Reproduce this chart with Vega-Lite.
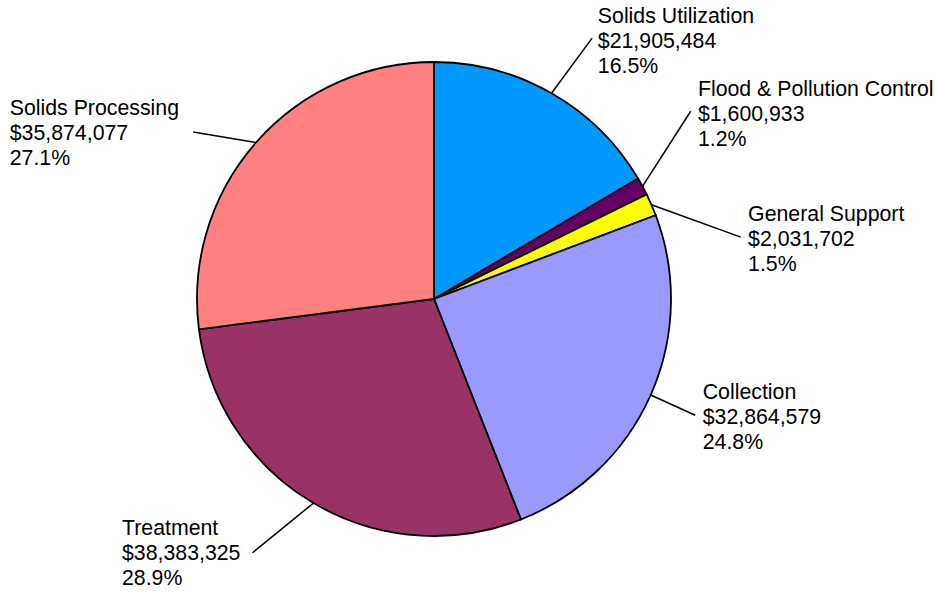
{
  "$schema": "https://vega.github.io/schema/vega-lite/v6.json",
  "width": 868,
  "height": 594,
  "autosize": "none",
  "padding": {"left": 0, "top": 2, "right": 69, "bottom": 0},
  "background": "white",
  "view": {"stroke": null},
  "config": {"text": {"font": "Liberation Sans", "fontSize": 21.3, "lineHeight": 25, "lineBreak": "\n", "baseline": "middle", "color": "black", "dy": -23}},
  "data": {
    "values": [
      {"cat": "Solids Utilization", "value": 21905484, "pct": 16.5},
      {"cat": "Flood & Pollution Control", "value": 1600933, "pct": 1.2},
      {"cat": "General Support", "value": 2031702, "pct": 1.5},
      {"cat": "Collection", "value": 32864579, "pct": 24.8},
      {"cat": "Treatment", "value": 38383325, "pct": 28.9},
      {"cat": "Solids Processing", "value": 35874077, "pct": 27.1}
    ]
  },
  "transform": [
    {"window": [{"op": "row_number", "as": "idx"}]},
    {"stack": "value", "groupby": [], "sort": [{"field": "idx"}], "offset": "normalize", "as": ["v0", "v1"]},
    {"calculate": "(datum.v0 + datum.v1) / 2", "as": "mid"},
    {"calculate": "datum.cat + '\\n$' + format(datum.value, ',') + '\\n' + format(datum.pct, '.1f') + '%'", "as": "label"}
  ],
  "layer": [
    {
      "mark": {"type": "arc", "outerRadius": 237, "stroke": "black", "strokeWidth": 1.8},
      "encoding": {
        "theta": {"field": "v0", "type": "quantitative", "scale": {"domain": [0, 1], "nice": false, "zero": true}},
        "theta2": {"field": "v1"},
        "color": {
          "field": "cat", "type": "nominal", "legend": null,
          "scale": {
            "domain": ["Solids Utilization", "Flood & Pollution Control", "General Support", "Collection", "Treatment", "Solids Processing"],
            "range": ["#0099FF", "#660066", "#FFFF00", "#9999FF", "#993366", "#FF8080"]
          }
        }
      }
    },
    {
      "transform": [
        {"calculate": "2 * PI * datum.mid", "as": "a0"},
        {"calculate": "datum.a0 + PI / 180 * (datum.cat === 'Solids Utilization' ? 1.5 : datum.cat === 'Flood & Pollution Control' ? -7.8 : datum.cat === 'General Support' ? 12.05 : datum.cat === 'Collection' ? 0.1 : datum.cat === 'Treatment' ? 5.0 : -6.6)", "as": "a1"},
        {"calculate": "datum.cat === 'Solids Utilization' ? 305 : datum.cat === 'Flood & Pollution Control' ? 318 : datum.cat === 'General Support' ? 313 : datum.cat === 'Collection' ? 286 : datum.cat === 'Treatment' ? 312 : 293", "as": "r1"},
        {"calculate": "237 * sin(datum.a0)", "as": "sx"},
        {"calculate": "237 * cos(datum.a0)", "as": "sy"},
        {"calculate": "datum.r1 * sin(datum.a1)", "as": "ex"},
        {"calculate": "datum.r1 * cos(datum.a1)", "as": "ey"}
      ],
      "mark": {"type": "rule", "color": "black", "strokeWidth": 1.5},
      "encoding": {
        "x": {"field": "sx", "type": "quantitative", "axis": null, "scale": {"domain": [-434, 434], "nice": false, "zero": false}},
        "y": {"field": "sy", "type": "quantitative", "axis": null, "scale": {"domain": [-297, 297], "nice": false, "zero": false}},
        "x2": {"field": "ex"},
        "y2": {"field": "ey"}
      }
    },
    {
      "transform": [{"filter": "datum.cat === 'Solids Utilization'"}],
      "mark": {"type": "text", "align": "left", "radius": 306.6, "thetaOffset": 0.045},
      "encoding": {"theta": {"field": "mid", "type": "quantitative"}, "text": {"field": "label"}}
    },
    {
      "transform": [{"filter": "datum.cat === 'Flood & Pollution Control'"}],
      "mark": {"type": "text", "align": "left", "radius": 323, "thetaOffset": -0.119},
      "encoding": {"theta": {"field": "mid", "type": "quantitative"}, "text": {"field": "label"}}
    },
    {
      "transform": [{"filter": "datum.cat === 'General Support'"}],
      "mark": {"type": "text", "align": "left", "radius": 320, "thetaOffset": 0.217},
      "encoding": {"theta": {"field": "mid", "type": "quantitative"}, "text": {"field": "label"}}
    },
    {
      "transform": [{"filter": "datum.cat === 'Collection'"}],
      "mark": {"type": "text", "align": "left", "radius": 293, "thetaOffset": -0.007},
      "encoding": {"theta": {"field": "mid", "type": "quantitative"}, "text": {"field": "label"}}
    },
    {
      "transform": [{"filter": "datum.cat === 'Treatment'"}],
      "mark": {"type": "text", "align": "left", "radius": 402, "thetaOffset": 0.355},
      "encoding": {"theta": {"field": "mid", "type": "quantitative"}, "text": {"field": "label"}}
    },
    {
      "transform": [{"filter": "datum.cat === 'Solids Processing'"}],
      "mark": {"type": "text", "align": "left", "radius": 456, "thetaOffset": -0.346},
      "encoding": {"theta": {"field": "mid", "type": "quantitative"}, "text": {"field": "label"}}
    }
  ]
}
